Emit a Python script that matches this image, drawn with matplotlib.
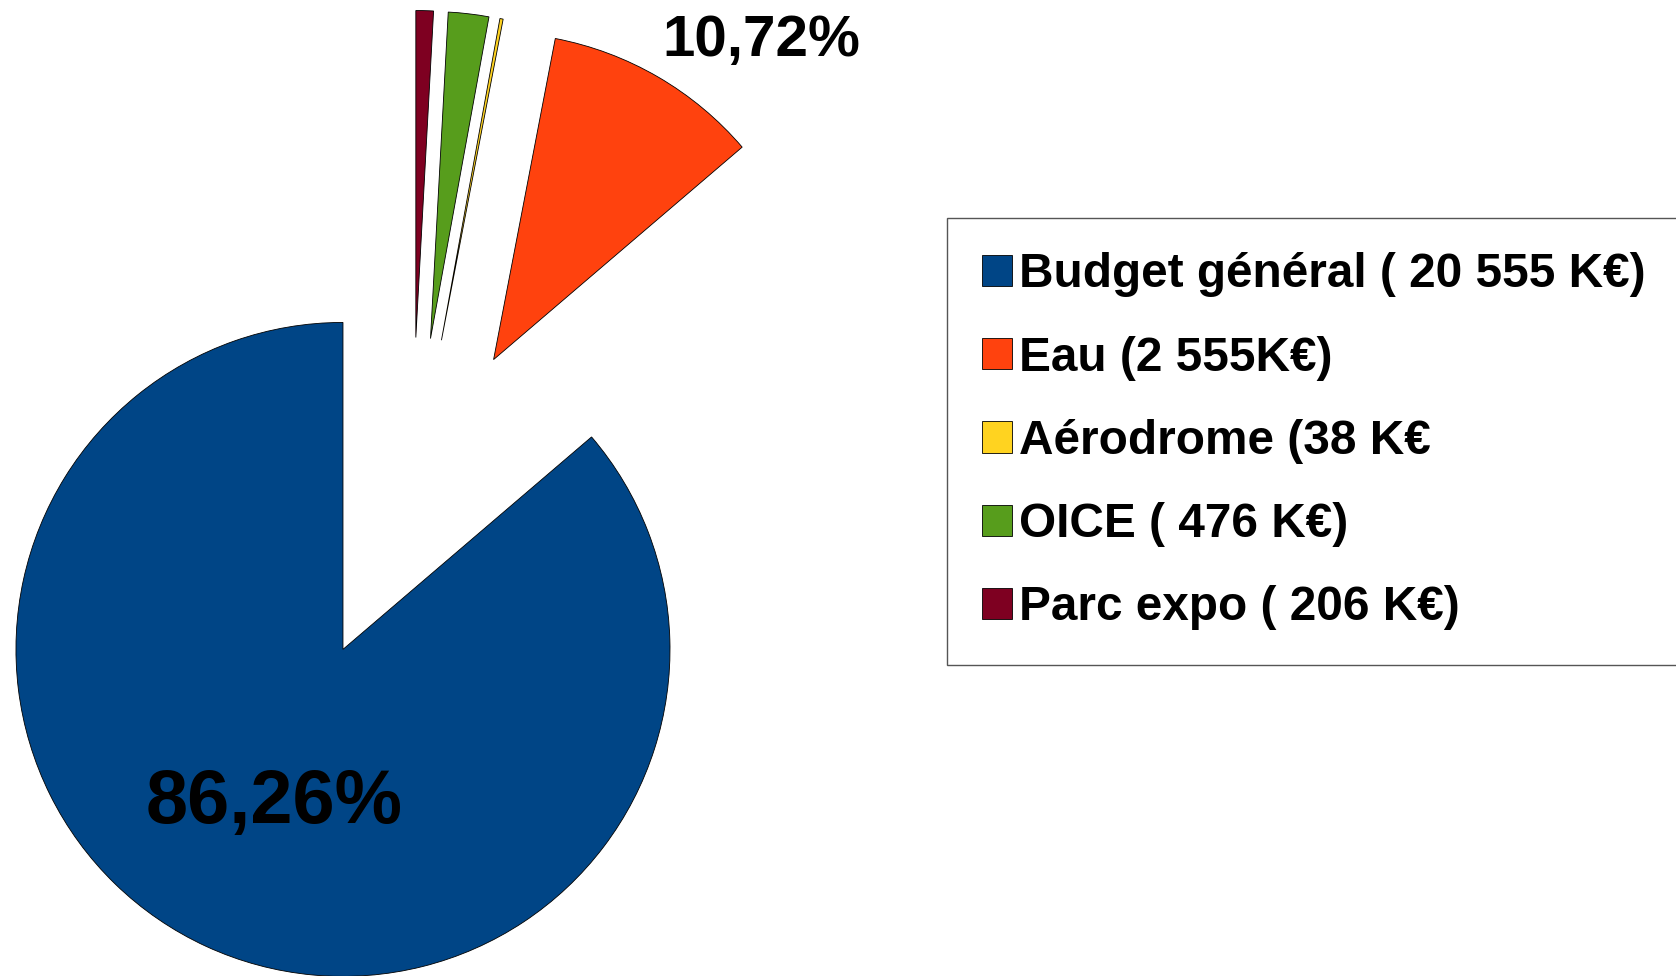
import matplotlib.pyplot as plt
import numpy as np

# Données
categories = ['Budget général ( 20 555 K€)', 'Eau (2 555K€)', 'Aérodrome (38 K€',
              'OICE ( 476 K€)', 'Parc expo ( 206 K€)']
montants = [20555, 2555, 38, 476, 206]
couleurs = ['#004586', '#ff420e', '#ffd320', '#579d1c', '#7e0021']


def fmt_pct(p):
    # seules les deux grosses parts ont une étiquette
    if p < 5:
        return ''
    return f'{p:.2f}%'.replace('.', ',')


fig = plt.figure(figsize=(16.76, 9.76), dpi=100)
ax = fig.add_axes([0, 0, 1, 1])

wedges, labels, pcts = ax.pie(
    montants, explode=[0.5] * len(montants), colors=couleurs,
    startangle=90, counterclock=True, radius=1.0,
    autopct=fmt_pct, pctdistance=0.5,
    wedgeprops=dict(edgecolor='black', linewidth=0.6),
    textprops=dict(fontfamily='Liberation Sans', fontweight='bold'))

pcts[0].set_fontsize(54.5)
x0, y0 = pcts[0].get_position()
pcts[0].set_position((x0, y0 - 0.016))
pcts[1].set_fontsize(42)
# étiquette Eau placée à l'extérieur de la part
pcts[1].set_position((1.069, 1.407))

# cadrage : 327 px par unité, centre du camembert à (411, 501) px
ax.set_xlim(-1.258, 3.867)
ax.set_ylim(-1.453, 1.532)
ax.set_aspect('auto')
ax.axis('off')

leg = fig.legend(wedges, categories, loc='upper left',
                 bbox_to_anchor=(0.5651, 0.2, 0.6, 0.5766), mode='expand',
                 prop=dict(family='Liberation Sans', weight='bold', size=34.4),
                 handlelength=0.63, handleheight=0.63, handletextpad=0.15,
                 labelspacing=0.80, borderpad=0.72, borderaxespad=0,
                 fancybox=False, framealpha=1, edgecolor='#555555')
leg.get_frame().set_linewidth(1.0)

fig.savefig('out.png', dpi=100)
